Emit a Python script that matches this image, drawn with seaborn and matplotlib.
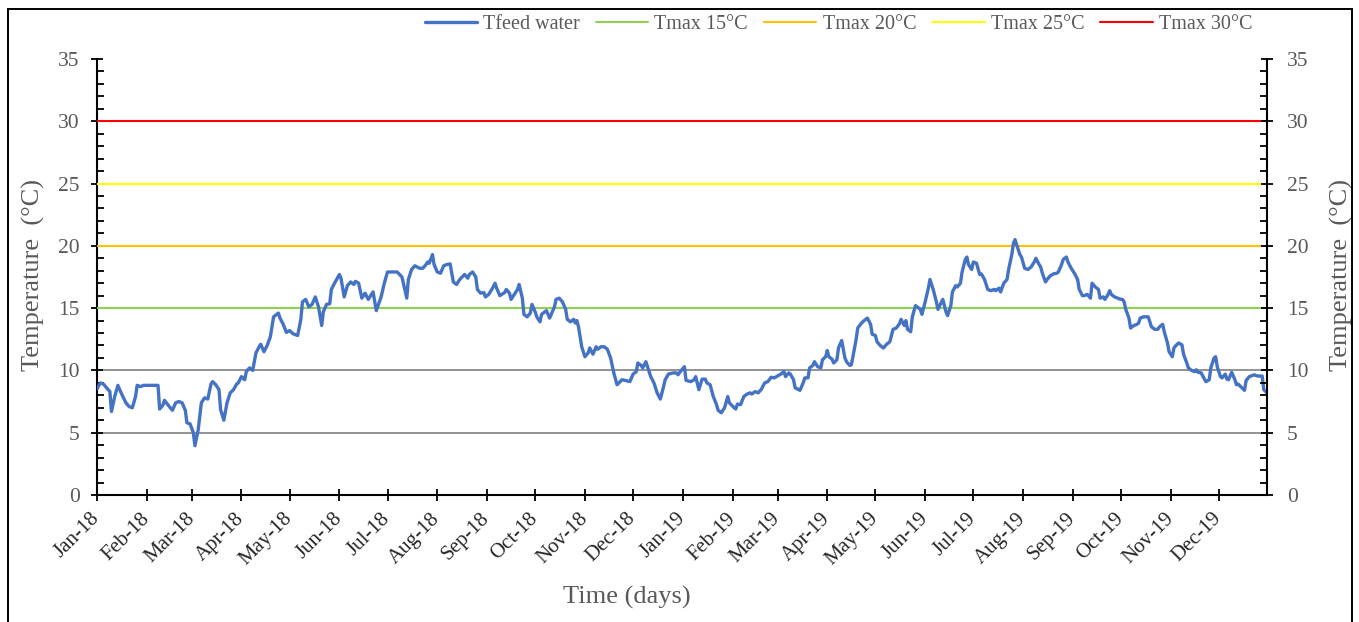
import matplotlib
matplotlib.use("Agg")
import matplotlib.pyplot as plt
import matplotlib.dates as mdates
from matplotlib.ticker import MultipleLocator
from matplotlib.patches import Rectangle
import pandas as pd
import seaborn as sns

# Daily feed water temperature (days since 1 Jan 2018)
start_date = "2018-01-01"

day_offset = [
    0, 2, 4, 6, 8, 9, 11, 13, 15, 18,
    20, 22, 24, 25, 27, 29, 31, 34, 38, 39,
    41, 42, 45, 47, 49, 51, 53, 55, 56, 58,
    60, 61, 63, 65, 67, 69, 71, 72, 74, 76,
    77, 79, 81, 83, 85, 87, 88, 90, 92, 93,
    95, 97, 99, 101, 102, 104, 106, 108, 110, 112,
    113,
    114, 116, 118, 120, 122, 125, 127, 128, 130, 132,
    134, 136, 138, 140, 141, 143, 145, 146, 148, 151,
    152, 154, 156, 158, 160, 161, 163, 165, 167, 169,
    172, 174, 177, 179, 181, 184, 187, 190, 193, 194,
    196, 198, 201, 203, 205, 206, 207, 209, 210, 212,
    214, 216, 218, 220, 222, 224, 226, 229, 231, 232,
    233, 234, 236, 237, 239, 241, 242, 244, 246, 248,
    249, 251, 254, 255, 257, 258, 260, 262, 263, 265,
    266, 268, 270, 271, 273, 274, 276, 277, 280, 282,
    283, 285, 286, 288, 290, 292, 293, 295, 297, 298,
    299, 300, 302, 304, 306, 307, 309, 311, 312, 314,
    316, 318, 320, 322, 324, 326, 327, 329, 332, 334,
    336, 337, 339, 340, 342, 343, 345, 347, 348, 349,
    351,
    353, 354, 356, 359, 361, 362, 364, 366, 367, 370,
    372, 373, 375, 377, 379, 380, 382, 384, 386, 387,
    389, 391, 393, 394, 397, 398, 399, 401, 403, 405,
    407, 408, 410, 412, 414, 416, 418, 420, 422, 424,
    426, 428, 429, 431, 432, 434, 435, 438, 440, 441,
    443, 444, 446, 447, 449, 451, 452, 454, 455, 456,
    458, 459, 461, 462, 464, 466, 467, 469,
    470, 471, 472, 473, 474, 476, 478, 480, 482, 483,
    485, 486, 488, 490, 492, 494, 496, 498, 500, 501,
    503, 504, 505, 507, 508, 510, 511, 513, 514, 516,
    518, 519, 521, 523, 524, 526, 527, 529, 530, 532,
    533, 535, 536, 538, 539, 541, 542, 543, 545, 546,
    548, 550, 551, 553, 555, 557, 559, 560, 562, 563,
    565, 567, 568, 570, 571, 572, 573, 575, 576, 578,
    580, 582, 584, 585, 587,
    588, 589, 591, 592, 594, 596, 598, 599, 601, 602,
    604, 605, 607, 609, 611, 612, 614, 615, 617, 619,
    620, 622, 624, 625, 627, 628, 630, 631, 632, 634,
    636, 638, 639, 640, 641, 643, 644, 646, 648, 649,
    650, 652, 654, 655, 657, 659, 661, 662, 664, 665,
    667, 668, 670, 671, 673, 674, 676, 677, 679, 680,
    682, 684, 685, 686, 688, 690, 691, 693, 694, 696,
    697, 698, 700, 701, 703, 704, 705, 707, 709, 710,
    711, 713, 715, 716, 718, 719, 721, 723, 726, 727,
    729,
]

t_feed = [
    8.5, 9.0, 8.9, 8.6, 8.3, 6.7, 7.9, 8.8, 8.2, 7.4,
    7.1, 7.0, 7.9, 8.8, 8.7, 8.8, 8.8, 8.8, 8.8, 6.9,
    7.2, 7.6, 7.1, 6.8, 7.4, 7.5, 7.4, 6.8, 5.8, 5.7,
    5.0, 3.95, 5.2, 7.4, 7.8, 7.7, 8.9, 9.1, 8.85, 8.45,
    6.85, 6.0, 7.4, 8.2, 8.45, 8.9, 9.0, 9.5, 9.25, 9.9,
    10.2, 10.0, 11.4, 11.9, 12.1, 11.5, 12.0, 12.7, 14.3, 14.5,
    14.6,
    14.2, 13.7, 13.05, 13.2, 12.95, 12.8, 14.1, 15.5, 15.7, 15.1,
    15.3, 15.9, 15.1, 13.6, 14.7, 15.3, 15.35, 16.5, 17.0, 17.7,
    17.4, 15.9, 16.8, 17.1, 16.9, 17.15, 17.0, 15.8, 16.2, 15.7,
    16.3, 14.8, 15.9, 17.0, 17.9, 17.9, 17.9, 17.5, 15.8, 17.3,
    18.1, 18.4, 18.2, 18.2, 18.5, 18.7, 18.6, 19.3, 18.5, 17.9,
    17.8, 18.4, 18.5, 18.55, 17.1, 16.9, 17.3, 17.7, 17.4, 17.7,
    17.8, 17.9, 17.5, 16.5, 16.2, 16.25, 15.9, 16.1, 16.5, 17.0,
    16.6, 16.0, 16.25, 16.5, 16.2, 15.7, 16.1, 16.5, 16.9, 15.8,
    14.5, 14.3, 14.6, 15.3, 14.7, 14.3, 13.9, 14.5, 14.8, 14.2,
    14.5, 15.1, 15.7, 15.8, 15.5, 14.9, 14.1, 13.9, 14.1, 13.8,
    14.0, 13.5, 11.9, 11.1, 11.4, 11.8, 11.3, 11.9, 11.7, 11.9,
    11.9, 11.7, 11.0, 9.8, 8.85, 9.1, 9.25, 9.2, 9.1, 9.7,
    9.9, 10.6, 10.4, 10.2, 10.7, 10.3, 9.5, 9.0, 8.6, 8.2,
    7.7,
    8.7, 9.25, 9.7, 9.8, 9.8, 9.65, 10.0, 10.3, 9.2, 9.1,
    9.25, 9.5, 8.45, 9.3, 9.3, 9.0, 8.85, 7.9, 7.25, 6.8,
    6.6, 7.0, 7.9, 7.4, 7.0, 6.9, 7.3, 7.25, 7.9, 8.1,
    8.2, 8.1, 8.3, 8.2, 8.5, 9.0, 9.1, 9.45, 9.4, 9.55,
    9.7, 9.9, 9.5, 9.8, 9.7, 9.25, 8.6, 8.4, 9.0, 9.4,
    9.4, 10.2, 10.4, 10.7, 10.3, 10.2, 10.85, 11.1, 11.6, 11.1,
    10.9, 10.6, 10.85, 11.8, 12.4, 11.0, 10.7, 10.4,
    10.45, 11.1, 11.8, 12.5, 13.4, 13.75, 14.0, 14.2, 13.7, 12.9,
    12.8, 12.3, 12.0, 11.8, 12.1, 12.3, 13.3, 13.4, 13.75, 14.1,
    13.6, 14.0, 13.3, 13.1, 14.3, 15.2, 15.1, 14.9, 14.5, 15.5,
    16.6, 17.3, 16.5, 15.5, 14.9, 15.45, 15.7, 14.7, 14.4, 15.2,
    16.3, 16.8, 16.7, 17.0, 17.9, 18.9, 19.1, 18.5, 18.1, 18.7,
    18.6, 17.7, 17.75, 17.3, 16.5, 16.4, 16.5, 16.4, 16.6, 16.3,
    17.0, 17.3, 18.1, 19.3, 20.2, 20.5, 20.1, 19.3, 19.1, 18.2,
    18.1, 18.3, 18.7, 19.0, 18.5,
    18.3, 17.8, 17.1, 17.3, 17.6, 17.75, 17.8, 17.9, 18.5, 18.9,
    19.1, 18.7, 18.2, 17.8, 17.3, 16.5, 16.0, 16.0, 16.1, 15.8,
    17.0, 16.7, 16.5, 15.8, 15.9, 15.7, 16.1, 16.4, 16.1, 15.9,
    15.8, 15.7, 15.7, 15.5, 14.9, 14.2, 13.4, 13.6, 13.7, 13.8,
    14.2, 14.3, 14.3, 14.3, 13.5, 13.3, 13.3, 13.5, 13.7, 13.1,
    12.2, 11.5, 11.1, 11.8, 12.1, 12.2, 12.05, 11.3, 10.6, 10.2,
    10.0, 9.9, 10.05, 9.85, 9.8, 9.3, 9.1, 9.25, 10.2, 11.0,
    11.1, 10.3, 9.5, 9.4, 9.7, 9.3, 9.25, 9.85, 9.25, 8.85,
    8.9, 8.65, 8.4, 9.2, 9.5, 9.55, 9.65, 9.55, 9.55, 8.45,
    8.2,
]

# Threshold lines
tmax_levels = [15, 20, 25, 30]
tmax_labels = ["Tmax 15°C", "Tmax 20°C", "Tmax 25°C", "Tmax 30°C"]
tmax_colors = ["#92D050", "#FFC000", "#FFFF00", "#FF0000"]

y_ticks = [0, 5, 10, 15, 20, 25, 30, 35]

GREY = "#595959"


def style_y_axis(axis, side):
    axis.set_ylim(0, 35)
    axis.set_yticks(y_ticks)
    axis.yaxis.set_minor_locator(MultipleLocator(1))
    axis.tick_params(axis="y", which="major", direction="inout", length=9, width=1.3,
                     color="black", labelcolor=GREY, labelsize=15.5,
                     pad=8 if side == "left" else 10)
    axis.tick_params(axis="y", which="minor", direction="in", length=5, width=1.3, color="black")


def main():
    dates = pd.Timestamp(start_date) + pd.to_timedelta(day_offset, unit="D")
    df = pd.DataFrame({"date": dates, "temp": t_feed})

    sns.set_style("ticks")
    plt.rcParams["font.family"] = ["Liberation Serif", "DejaVu Serif"]

    fig = plt.figure(figsize=(13.59, 6.22), dpi=100)
    ax = fig.add_axes([0.0714, 0.2042, 0.8609, 0.7010])

    # 1. Threshold lines and feed water series
    sns.lineplot(data=df, x="date", y="temp", ax=ax, color="#4472C4", linewidth=2.4,
                 label="Tfeed water", zorder=4)
    for level, label, color in zip(tmax_levels, tmax_labels, tmax_colors):
        ax.axhline(level, color=color, linewidth=1.5, label=label, zorder=3)

    # 2. Axes formatting
    ax.set_xlim(df["date"].iloc[0], df["date"].iloc[-1])
    style_y_axis(ax, "left")
    ax.yaxis.grid(True, color="#808080", linewidth=1.2, zorder=1)
    ax.get_ygridlines()[-1].set_visible(False)
    ax.set_axisbelow(True)

    ax.xaxis.set_major_locator(mdates.MonthLocator())
    ax.xaxis.set_major_formatter(mdates.DateFormatter("%b-%y"))
    ax.tick_params(axis="x", direction="inout", length=8, width=1.3, color="black",
                   labelcolor="#262626", labelsize=15, pad=11)
    for lbl in ax.get_xticklabels():
        lbl.set_rotation(45)
        lbl.set_ha("right")
        lbl.set_va("center")
        lbl.set_rotation_mode("anchor")

    for side in ["top", "right"]:
        ax.spines[side].set_visible(False)
    for side in ["left", "bottom"]:
        ax.spines[side].set_color("black")
        ax.spines[side].set_linewidth(1.5)

    ax.set_xlabel("Time (days)", fontsize=19, color=GREY, va="center")
    ax.xaxis.set_label_coords(0.453, -0.234)
    ax.set_ylabel("Temperature  (°C)", fontsize=19, color=GREY, va="center")
    ax.yaxis.set_label_coords(-0.0547, 0.505)

    # 3. Secondary axis on the right, same scale
    ax2 = ax.twinx()
    style_y_axis(ax2, "right")
    for side in ["top", "left", "bottom"]:
        ax2.spines[side].set_visible(False)
    ax2.spines["right"].set_color("black")
    ax2.spines["right"].set_linewidth(1.5)
    ax2.set_ylabel("Temperature  (°C)", fontsize=19, color=GREY, va="center")
    ax2.yaxis.set_label_coords(1.064, 0.505)

    # 4. Legend across the top
    handles, labels = ax.get_legend_handles_labels()
    ax.get_legend().remove()
    fig.legend(handles, labels, loc="center", bbox_to_anchor=(0.617, 0.961),
               ncol=5, frameon=False, fontsize=14.5, labelcolor=GREY,
               handlelength=2.6, handletextpad=0.3, columnspacing=0.8)

    # Outer frame around the whole chart
    fig.patches.append(Rectangle((8 / 1359, -0.01), 1344 / 1359, 1.01 - 9 / 622,
                                 transform=fig.transFigure, fill=False,
                                 edgecolor="black", linewidth=1.4))

    fig.savefig("out.png", dpi=100)
    plt.close(fig)


if __name__ == "__main__":
    main()
